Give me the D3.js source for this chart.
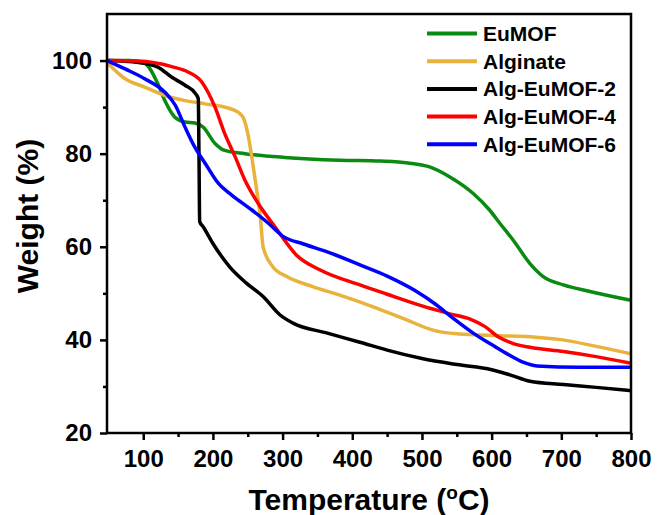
<!DOCTYPE html>
<html lang="en">
<head>
<meta charset="UTF-8">
<script src="https://d3js.org/d3.v7.min.js"></script>
<title>TGA curves</title>
<style>
  body { margin: 0; background: #fff; }
  text { font-family: "Liberation Sans", Arial, sans-serif; font-weight: bold; fill: #000; }
</style>
</head>
<body>
<script>
// Values: [temperature, weight %]
const euMOF = [[48,100],[80,100],[102,99.4],[121,95.0],[131,91.4],[145,87.9],[160,86.8],[174,86.6],[186,85.7],[203,82.2],[217,80.7],[246,80.0],[303,79.2],[382,78.6],[440,78.4],[480,78.0],[510,77.2],[540,75.0],[574,71.4],[597,67.9],[612,65.0],[631,61.4],[655,56.4],[674,53.6],[703,51.8],[741,50.4],[800,48.5]];
const alginate = [[48,99.6],[74,96.1],[102,94.3],[131,92.5],[160,91.4],[189,90.7],[217,90.0],[236,88.9],[244,87.6],[251,83.6],[258,77.1],[264,71],[268,66.5],[272,60.0],[286,55.7],[306,53.6],[344,51.4],[382,49.6],[430,47.1],[478,44.3],[516,42.1],[550,41.3],[612,40.9],[655,40.7],[702,40.0],[750,38.6],[800,37.0]];
const algEu2 = [[48,100],[93,99.6],[121,98.6],[141,96.4],[160,94.7],[175,92.9],[179,91.8],[180,80],[181,65.4],[186,64.3],[200,60.7],[224,55.7],[248,52.2],[272,49.3],[296,45.4],[315,43.6],[363,41.5],[411,39.5],[450,37.8],[500,36.0],[550,34.7],[600,33.6],[626,32.5],[655,31.1],[703,30.4],[750,29.8],[800,29.1]];
const algEu4 = [[48,100],[93,99.9],[141,98.7],[165,97.5],[184,95.4],[193,93.2],[203,90.0],[217,84.3],[232,79.3],[246,74.3],[265,69.3],[289,64.3],[320,58.2],[354,55.0],[411,51.8],[450,49.8],[500,47.3],[540,45.6],[570,44.4],[590,42.9],[610,40.6],[631,39.2],[655,38.4],[703,37.5],[750,36.4],[800,35.0]];
const algEu6 = [[48,100],[74,98.2],[102,96.1],[131,93.2],[146,90.4],[160,85.7],[174,81.4],[189,77.9],[208,73.6],[227,71.1],[256,67.9],[280,65.0],[300,62.3],[330,60.6],[370,58.6],[411,56.1],[450,53.7],[490,50.6],[520,47.6],[545,44.6],[574,41.4],[600,39.0],[621,37.1],[645,35.2],[665,34.4],[727,34.1],[800,34.1]];

const seriesNames = ['EuMOF', 'Alginate', 'Alg-EuMOF-2', 'Alg-EuMOF-4', 'Alg-EuMOF-6'];
const seriesColors = ['#0b8a12', '#e9b23c', '#000000', '#ff0000', '#0000ff'];
const seriesData = [euMOF, alginate, algEu2, algEu4, algEu6];

const xTicks = [100, 200, 300, 400, 500, 600, 700, 800];
const yTicks = [20, 40, 60, 80, 100];

const W = 657, H = 515;
const plot = {left: 107, right: 631, top: 14, bottom: 433};

const svg = d3.select('body').append('svg')
    .attr('width', W)
    .attr('height', H);

const x = d3.scaleLinear().domain([48, 800]).range([plot.left, plot.right]);
const y = d3.scaleLinear().domain([20, 110]).range([plot.bottom, plot.top]);

// curves
const line = d3.line()
    .x(d => x(d[0]))
    .y(d => y(d[1]))
    .curve(d3.curveMonotoneX);

seriesData.forEach((data, i) => {
    svg.append('path')
        .datum(data)
        .attr('fill', 'none')
        .attr('stroke', seriesColors[i])
        .attr('stroke-width', 3.5)
        .attr('stroke-linejoin', 'round')
        .attr('d', line);
});

// frame
svg.append('rect')
    .attr('x', plot.left)
    .attr('y', plot.top)
    .attr('width', plot.right - plot.left)
    .attr('height', plot.bottom - plot.top)
    .attr('fill', 'none')
    .attr('stroke', '#000')
    .attr('stroke-width', 2.5);

// x axis
svg.append('g')
    .attr('transform', `translate(0,${plot.bottom})`)
    .call(d3.axisBottom(x).tickValues(xTicks).tickSize(7).tickPadding(10));
svg.append('g')
    .attr('transform', `translate(0,${plot.bottom})`)
    .call(d3.axisBottom(x).tickValues(d3.range(150, 800, 100)).tickSize(4).tickFormat(''));

// y axis
svg.append('g')
    .attr('transform', `translate(${plot.left},0)`)
    .call(d3.axisLeft(y).tickValues(yTicks).tickSize(7).tickPadding(8));
svg.append('g')
    .attr('transform', `translate(${plot.left},0)`)
    .call(d3.axisLeft(y).tickValues([30, 50, 70, 90]).tickSize(4).tickFormat(''));

svg.selectAll('.domain').remove();
svg.selectAll('.tick line').attr('stroke', '#000').attr('stroke-width', 2.5);
svg.selectAll('.tick text')
    .attr('font-size', 24)
    .attr('font-family', '"Liberation Sans", Arial, sans-serif')
    .attr('font-weight', 'bold')
    .attr('fill', '#000');

// axis titles
const xt = svg.append('text')
    .attr('x', (plot.left + plot.right) / 2)
    .attr('y', 510)
    .attr('text-anchor', 'middle')
    .attr('font-size', 30);
xt.append('tspan').text('Temperature (');
xt.append('tspan').attr('font-size', 19).attr('dy', -11).text('o');
xt.append('tspan').attr('dy', 11).text('C)');

svg.append('text')
    .attr('transform', 'translate(38,216) rotate(-90)')
    .attr('text-anchor', 'middle')
    .attr('font-size', 30)
    .text('Weight (%)');

// legend
const legend = svg.append('g');
seriesNames.forEach((name, i) => {
    const ly = 33.5 + i * 27.7;
    legend.append('line')
        .attr('x1', 427).attr('x2', 477)
        .attr('y1', ly).attr('y2', ly)
        .attr('stroke', seriesColors[i])
        .attr('stroke-width', 4);
    legend.append('text')
        .attr('x', 483)
        .attr('y', ly)
        .attr('dy', '0.35em')
        .attr('font-size', 21)
        .text(name);
});
</script>
</body>
</html>
